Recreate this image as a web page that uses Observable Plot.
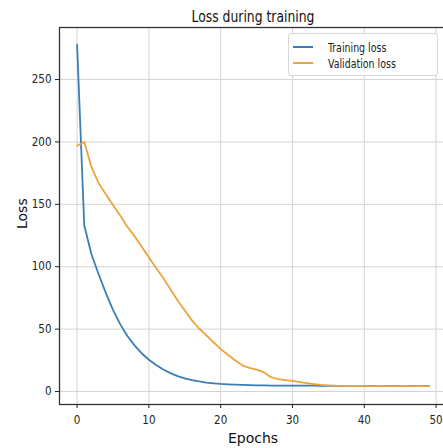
<!DOCTYPE html>
<html>
<head>
<meta charset="utf-8">
<script src="https://cdn.jsdelivr.net/npm/d3@7"></script>
<script src="https://cdn.jsdelivr.net/npm/@observablehq/plot@0.6"></script>
<style>
  html, body { margin: 0; padding: 0; background: #fff; overflow: hidden; }
  #wrap { position: relative; width: 443px; height: 448px; overflow: hidden; }
  #legend {
    position: absolute; left: 288px; top: 33px; width: 150px; height: 43px;
    box-sizing: border-box; border: 1px solid #d8d8d8; border-radius: 3px;
    background: rgba(255,255,255,0.85);
    font-family: "DejaVu Sans Condensed", "DejaVu Sans", sans-serif;
    font-size: 12.5px; color: #222;
  }
  .item { position: absolute; left: 0; height: 16px; display: flex; align-items: center; white-space: nowrap; }
  .sw { width: 20px; height: 2px; margin-left: 4px; margin-right: 15px; }
  .lab { display: inline-block; transform: scaleX(0.84); transform-origin: 0 50%; }
</style>
</head>
<body>
<div id="wrap"><div id="legend"></div></div>
<script>
const epochs = d3.range(0, 50);
const trainingLoss = [
  278, 133, 110, 94, 79, 65.5, 54, 44.5, 37, 30.5,
  25.5, 21.2, 17.6, 14.7, 12.4, 10.6, 9.2, 8.1, 7.2, 6.6,
  6.1, 5.8, 5.5, 5.3, 5.1, 5.0, 4.9, 4.8, 4.8, 4.8,
  4.7, 4.7, 4.7, 4.7, 4.6, 4.6, 4.6, 4.6, 4.6, 4.6,
  4.5, 4.5, 4.5, 4.5, 4.5, 4.5, 4.5, 4.5, 4.5, 4.5
];
const validationLoss = [
  197, 200, 180, 167, 158, 149.5, 141, 132, 124.5, 116,
  107.5, 99, 91, 82, 73, 65, 57, 50.5, 45, 39.5,
  34, 29.5, 25, 21, 19, 17.5, 15.5, 11.5, 10, 9.2,
  8.5, 7.6, 6.8, 6, 5.3, 5, 4.7, 4.6, 4.5, 4.6,
  4.5, 4.4, 4.5, 4.5, 4.4, 4.5, 4.5, 4.4, 4.5, 4.4
];
const seriesNames = ["Training loss", "Validation loss"];
const seriesColors = ["#3a7fb4", "#eea33c"];
const xTicks = [0, 10, 20, 30, 40, 50];
const yTicks = [0, 50, 100, 150, 200, 250];
const titleText = "Loss during training";
const xLabel = "Epochs";
const yLabel = "Loss";

const rows = [];
epochs.forEach((e, i) => {
  rows.push({epoch: e, loss: trainingLoss[i], series: seriesNames[0]});
  rows.push({epoch: e, loss: validationLoss[i], series: seriesNames[1]});
});

const chart = Plot.plot({
  width: 447,
  height: 448,
  marginLeft: 59,
  marginRight: 1,
  marginTop: 27,
  marginBottom: 44,
  style: {
    fontFamily: "'DejaVu Sans Condensed', 'DejaVu Sans', sans-serif",
    fontSize: "11.5px",
    color: "#222",
    background: "transparent"
  },
  x: {domain: [-2.45, 51.45], ticks: xTicks, tickSize: 4, tickPadding: 7, label: null},
  y: {domain: [-10.4, 291.7], ticks: yTicks, tickSize: 4, tickPadding: 4, label: null},
  color: {domain: seriesNames, range: seriesColors},
  marks: [
    Plot.ruleX(xTicks, {stroke: "#d4d4d4", strokeWidth: 1}),
    Plot.ruleY(yTicks, {stroke: "#d4d4d4", strokeWidth: 1}),
    Plot.line(rows, {x: "epoch", y: "loss", z: "series", stroke: "series", strokeWidth: 1.8}),
    Plot.frame({stroke: "#333", strokeWidth: 1.3}),
    Plot.text([titleText], {text: d => d, frameAnchor: "top", dy: -17, fontSize: 15.5,
      fontFamily: "'DejaVu Sans Condensed', sans-serif", fill: "#111"}),
    Plot.text([xLabel], {text: d => d, frameAnchor: "bottom", dy: 38, fontSize: 14,
      fontFamily: "'DejaVu Sans', sans-serif", fill: "#111"}),
    Plot.text([yLabel], {text: d => d, frameAnchor: "left", dx: -37, dy: 13, rotate: -90, fontSize: 14,
      fontFamily: "'DejaVu Sans', sans-serif", fill: "#111"})
  ]
});
chart.style.position = "absolute";
chart.style.left = "0px";
chart.style.top = "0px";
chart.style.maxWidth = "none";
chart.style.width = "447px";
chart.style.height = "448px";
d3.select(chart).selectAll("text")
  .filter(function() { return this.textContent === titleText; })
  .attr("textLength", 123).attr("lengthAdjust", "spacingAndGlyphs");
const wrap = document.getElementById("wrap");
wrap.insertBefore(chart, wrap.firstChild);

const legend = document.getElementById("legend");
seriesNames.forEach((name, i) => {
  const item = document.createElement("div");
  item.className = "item";
  item.style.top = (5 + i * 16) + "px";
  const sw = document.createElement("span");
  sw.className = "sw";
  sw.style.background = seriesColors[i];
  const lab = document.createElement("span");
  lab.className = "lab";
  lab.textContent = name;
  item.appendChild(sw);
  item.appendChild(lab);
  legend.appendChild(item);
});
</script>
</body>
</html>
